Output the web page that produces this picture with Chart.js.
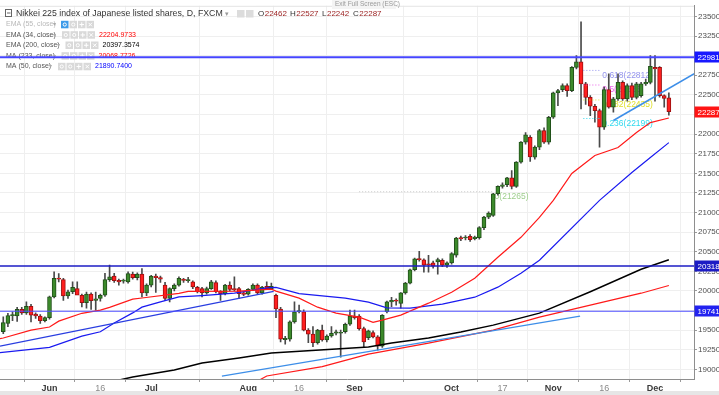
<!DOCTYPE html>
<html>
<head>
<meta charset="utf-8">
<script src="https://cdn.jsdelivr.net/npm/chart.js@4.4.0/dist/chart.umd.min.js"></script>
<style>
  html, body { margin: 0; padding: 0; background: #fff; }
  canvas { display: block; }
</style>
</head>
<body>
<canvas id="nikkei" width="719" height="395"></canvas>
<script>
// daily bars, index 0 = 15 May 2017 (weekdays only); first visible bar is index 3
const firstBar = 3;
const opens = [
  19480, 19585, 19685, 19680, 19765, 19720, 19805, 19705, 19680, 19620,
  19660, 19925, 20160, 20145, 19935, 19990, 20030, 19945, 19850, 19960,
  19880, 19905, 19945, 20145, 20190, 20135, 20125, 20115, 20215, 20170,
  20215, 19975, 20075, 20190, 20170, 20075, 19905, 20030, 20075, 20140,
  20130, 20115, 20045, 20030, 19975, 20030, 20105, 19995, 19965, 20075,
  20030, 20030, 19975, 19960, 20020, 20075, 19975, 20060, 20030, 19945,
  19770, 19380, 19385, 19605, 19735, 19735, 19500, 19450, 19340, 19500,
  19375, 19425, 19460, 19460, 19480, 19575, 19680, 19680, 19520, 19405,
  19470, 19415, 19295, 19735, 19860, 19875, 19840, 19975, 20100, 20270,
  20412, 20398, 20340, 20357, 20370, 20391, 20327, 20357, 20455, 20679,
  20675, 20696, 20667, 20679, 20807, 20942, 20964, 21239, 21333, 21354,
  21443, 21333, 21642, 21897, 21960, 21706, 21833, 22045, 21897, 22215,
  22525, 22567, 22618, 22554, 22851, 22923, 22640, 22469, 22355, 22300,
  22087, 22567, 22342, 22449, 22660, 22449, 22618, 22469, 22491, 22640,
  22660, 22850, 22851, 22491, 22462
];
const highs = [
  19670, 19715, 19735, 19790, 19790, 19860, 19830, 19720, 19700, 19670,
  19935, 20245, 20220, 20160, 20010, 20115, 20115, 19960, 19985, 19975,
  19985, 19960, 20225, 20330, 20225, 20150, 20150, 20245, 20240, 20230,
  20285, 20090, 20200, 20215, 20190, 20110, 20040, 20090, 20180, 20160,
  20175, 20130, 20060, 20045, 20050, 20135, 20130, 20005, 20085, 20115,
  20180, 20045, 19990, 20030, 20090, 20090, 20060, 20115, 20100, 19960,
  19790, 19420, 19620, 19860, 19820, 19760, 19520, 19545, 19510, 19565,
  19440, 19545, 19500, 19500, 19590, 19755, 19755, 19700, 19540, 19500,
  19490, 19430, 19700, 19870, 19920, 19900, 19980, 20110, 20280, 20420,
  20505, 20410, 20455, 20380, 20420, 20410, 20370, 20490, 20685, 20700,
  20705, 20720, 20700, 20820, 20950, 21010, 21245, 21340, 21380, 21450,
  21536, 21650, 21905, 22020, 21980, 21850, 22060, 22080, 22225, 22535,
  22570, 22640, 22640, 22860, 23000, 23433, 22660, 22490, 22380, 22320,
  22600, 22767, 22470, 22767, 22680, 22640, 22650, 22660, 22660, 22700,
  23000, 23000, 22860, 22500, 22527
];
const lows = [
  19455, 19545, 19620, 19610, 19700, 19700, 19605, 19650, 19585, 19605,
  19640, 19910, 20115, 19880, 19905, 19965, 20010, 19795, 19780, 19765,
  19755, 19870, 19930, 20120, 20110, 20075, 20100, 20100, 20150, 20140,
  19925, 19940, 20050, 19980, 20110, 19880, 19860, 20000, 20060, 20110,
  20110, 20030, 19975, 19925, 19960, 20020, 19975, 19880, 19950, 20000,
  20000, 19905, 19940, 19945, 20005, 19960, 19960, 20020, 20015, 19660,
  19350, 19320, 19360, 19590, 19720, 19490, 19340, 19290, 19320, 19360,
  19350, 19410, 19440, 19155, 19460, 19560, 19640, 19500, 19280, 19380,
  19400, 19245, 19280, 19720, 19800, 19820, 19780, 19960, 20090, 20255,
  20380, 20240, 20240, 20290, 20215, 20310, 20300, 20340, 20430, 20640,
  20650, 20630, 20650, 20660, 20780, 20920, 20950, 21220, 21310, 21330,
  21300, 21320, 21630, 21870, 21650, 21680, 21800, 21880, 21870, 22200,
  22364, 22540, 22480, 22540, 22830, 22321, 22380, 22236, 22151, 21833,
  22060, 22330, 22278, 22430, 22430, 22420, 22440, 22450, 22470, 22620,
  22640, 22420, 22470, 22342, 22242
];
const closes = [
  19595, 19685, 19695, 19765, 19720, 19805, 19690, 19680, 19620, 19660,
  19925, 20160, 20150, 19935, 19990, 20045, 19945, 19850, 19960, 19875,
  19900, 19945, 20145, 20180, 20130, 20115, 20130, 20220, 20170, 20215,
  19975, 20075, 20190, 20170, 20150, 19905, 20030, 20075, 20160, 20135,
  20145, 20050, 19990, 19975, 20030, 20115, 19990, 19965, 20075, 20020,
  20015, 19965, 19955, 20020, 20075, 19975, 20050, 20030, 20060, 19770,
  19385, 19395, 19605, 19735, 19750, 19500, 19450, 19340, 19500, 19375,
  19425, 19460, 19480, 19468, 19575, 19680, 19660, 19520, 19350, 19490,
  19415, 19295, 19690, 19860, 19880, 19870, 19975, 20100, 20270, 20410,
  20398, 20328, 20334, 20315, 20399, 20327, 20357, 20476, 20675, 20662,
  20688, 20654, 20688, 20807, 20942, 20993, 21239, 21333, 21354, 21443,
  21333, 21642, 21897, 21990, 21710, 21833, 22045, 21897, 22215, 22525,
  22554, 22618, 22554, 22851, 22923, 22640, 22469, 22355, 22300, 22087,
  22567, 22342, 22449, 22660, 22449, 22618, 22469, 22640, 22640, 22660,
  22864, 22830, 22491, 22456, 22287
];

// indicator lines: [bar index, value]
const ema34 = [[2,19390],[3,19400],[9,19500],[13,19540],[15,19615],[20,19715],[24,19755],[26,19790],
  [31,19895],[33,19910],[41,19970],[43,19995],[54,19997],[61,20022],[62,19997],[67,19908],[71,19793],
  [75,19717],[80,19666],[83,19600],[85,19628],[89,19691],[95,19844],[100,19984],[105,20162],[110,20429],
  [115,20684],[119,20938],[122,21155],[126,21498],[131,21727],[136,21829],[140,22020],[143,22147],[147,22205]];
const ma50 = [[2,19212],[10,19262],[13,19280],[20,19424],[24,19479],[27,19590],[31,19720],[33,19793],
  [37,19861],[41,19924],[46,19940],[53,19971],[60,20040],[62,20045],[67,19965],[77,19908],[82,19857],
  [86,19785],[91,19780],[98,19831],[105,19920],[110,20048],[115,20226],[119,20391],[132,21155],
  [139,21511],[143,21702],[147,21891]];
const ema200 = [[27,18850],[31,18902],[40,18991],[46,19080],[54,19144],[61,19208],[68,19233],[75,19259],
  [82,19284],[87,19335],[95,19399],[102,19475],[109,19564],[119,19717],[130,19990],[141,20277],[147,20397]];
const ma233 = [[58,18850],[60,18915],[72,19035],[82,19195],[95,19335],[109,19500],[119,19666],
  [141,19971],[147,20069]];

// drawn trend lines and levels
const trendA = [[2.29,19297],[61.5,19995]];
const trendB = [[50.3,18915],[127.8,19679]];
const trendC = [[135,22173],[152.5,22771]];
const levels = [22981, 20318, 19741];
const fibLevels = [22812, 22626, 22435, 22199];
const fibLabels = ["0.618(22812)", "0.5(22626)", "0.382(22435)", "0.236(22199)"];
const fibColors = ["#9494ee", "#ea5ee8", "#e0e02c", "#2fd9ee"];

// axes
const yTicks = [19000,19250,19500,19750,20000,20250,20500,20750,21000,21250,21500,21750,22000,22250,22500,22750,23000,23250,23500];
const xTickIdx = [13, 24, 35, 56, 67, 79, 100, 111, 122, 133, 144];
const xTickLabels = ["Jun", "16", "Jul", "Aug", "16", "Sep", "Oct", "17", "Nov", "16", "Dec"];

const xMin = 2.29, xMax = 152.44;
const toPts = (arr) => arr.map(([x, y]) => ({ x: x, y: y }));

const wicks = highs.map((h, k) => ({ x: firstBar + k, y: [lows[k], h] }));
const bodies = opens.map((o, k) => ({ x: firstBar + k, y: [o, closes[k]] }));
const isUp = (k) => closes[k] >= opens[k];

function line(pts, color, width, order, dash) {
  return {
    type: "line",
    data: toPts(pts),
    borderColor: color,
    borderWidth: width,
    borderDash: dash || [],
    pointRadius: 0,
    tension: 0,
    fill: false,
    order: order,
  };
}

const datasets = [
  {
    type: "bar",
    data: wicks,
    backgroundColor: "#4a4a4a",
    barThickness: 1,
    grouped: false,
    order: 20,
  },
  {
    type: "bar",
    data: bodies,
    backgroundColor: (c) => (isUp(c.dataIndex) ? "#3c8a2b" : "#ff1f1f"),
    borderColor: (c) => (isUp(c.dataIndex) ? "#21501a" : "#9e1010"),
    borderWidth: 1,
    borderSkipped: false,
    barThickness: 4,
    minBarLength: 1,
    grouped: false,
    order: 19,
  },
  line(ema200, "#000000", 1.5, 5),
  line(ma233, "#ff1a1a", 1.2, 5),
  line(ema34, "#ff1a1a", 1.2, 4),
  line(ma50, "#1a1af0", 1.2, 4),
  line(trendA, "#2a3ee0", 1.3, 3),
  line(trendB, "#3d8ee8", 1.3, 3),
  line(trendC, "#3d8ee8", 1.6, 3),
  line([[xMin, levels[0]], [xMax, levels[0]]], "#4646ff", 2, 2),
  line([[xMin, levels[1]], [xMax, levels[1]]], "#1c1cc4", 1.6, 2),
  line([[xMin, levels[2]], [xMax, levels[2]]], "#4d4dff", 1, 2),
  line([[80, 21265], [109, 21265]], "#c8c8c8", 1, 6, [1, 2]),
];
fibLevels.forEach((v, k) => {
  datasets.push(line([[128.5, v], [132.3, v]], fibColors[k], 1, 6, [1, 2]));
});

function icons(c, x0, y, first) {
  for (let k = 0; k < 4; k++) {
    c.fillStyle = k === 0 && first ? "#3d9be9" : "#d9d9d9";
    c.fillRect(x0 + k * 8.5, y - 3.5, 7.5, 7.5);
    c.strokeStyle = "#ffffff";
    c.lineWidth = 1;
    c.beginPath();
    if (k === 3) {
      c.moveTo(x0 + k * 8.5 + 2, y - 1.5); c.lineTo(x0 + k * 8.5 + 5.5, y + 2);
      c.moveTo(x0 + k * 8.5 + 5.5, y - 1.5); c.lineTo(x0 + k * 8.5 + 2, y + 2);
    } else if (k === 2) {
      c.moveTo(x0 + k * 8.5 + 3.75, y - 2); c.lineTo(x0 + k * 8.5 + 3.75, y + 2.5);
      c.moveTo(x0 + k * 8.5 + 1.5, y + 0.25); c.lineTo(x0 + k * 8.5 + 6, y + 0.25);
    } else {
      c.arc(x0 + k * 8.5 + 3.75, y + 0.25, 1.6, 0, Math.PI * 2);
    }
    c.stroke();
  }
}

const overlay = {
  id: "overlay",
  beforeDraw(chart) {
    const c = chart.ctx;
    c.save();
    c.fillStyle = "#ffffff";
    c.fillRect(0, 0, chart.width, chart.height);
    c.restore();
  },
  beforeDatasetsDraw(chart) {
    const c = chart.ctx;
    const xs = chart.scales.x, ys = chart.scales.y;
    c.save();
    c.textBaseline = "middle";

    // title row
    c.strokeStyle = "#666";
    c.lineWidth = 1;
    c.strokeRect(5.5, 9.5, 6, 7);
    c.beginPath(); c.moveTo(7, 13); c.lineTo(10.5, 13); c.stroke();
    c.font = "9.5px 'Liberation Sans', Arial, sans-serif";
    const title = "Nikkei 225 index of Japanese listed shares, D, FXCM";
    const tw = c.measureText(title).width;
    const ts = 9.5 * 207 / tw;
    c.font = ts.toFixed(2) + "px 'Liberation Sans', Arial, sans-serif";
    c.fillStyle = "#333333";
    c.fillText(title, 16, 13.5);
    c.fillStyle = "#999";
    c.font = "7px 'DejaVu Sans', sans-serif";
    c.fillText("\u25BE", 225, 14);
    c.fillStyle = "#dcdcdc";
    c.fillRect(237, 10, 7.5, 7.5);
    c.fillRect(246, 10, 7.5, 7.5);
    c.font = "8px 'Liberation Sans', Arial, sans-serif";
    const ohlc = [["O", "22462", 258], ["H", "22527", 290], ["L", "22242", 322], ["C", "22287", 353]];
    ohlc.forEach(([l, v, x]) => {
      c.fillStyle = "#333333";
      c.fillText(l, x, 13.5);
      c.fillStyle = "#9b2222";
      c.fillText(v, x + c.measureText(l).width + 0.5, 13.5);
    });

    // study rows
    const rows = [
      ["EMA (55, close)", 24.3, 53, 61, null, null, "#b9b9b9", true],
      ["EMA (34, close)", 34.7, 53, 62, "22204.9733", "#ff0000", "#555555", false],
      ["EMA (200, close)", 45, 57, 65.5, "20397.3574", "#000000", "#555555", false],
      ["MA (233, close)", 55.7, 53, 61.5, "20068.7726", "#ff0000", "#555555", false],
      ["MA (50, close)", 66.3, 49, 58, "21890.7400", "#0000ff", "#555555", false],
    ];
    rows.forEach(([name, y, ax, ix, val, vc, nc, first]) => {
      c.font = "7px 'Liberation Sans', Arial, sans-serif";
      c.fillStyle = nc;
      c.fillText(name, 6, y);
      c.fillStyle = "#aaaaaa";
      c.font = "6px 'DejaVu Sans', sans-serif";
      c.fillText("\u25BE", ax, y + 0.5);
      icons(c, ix, y, first);
      if (val) {
        c.font = "7px 'Liberation Sans', Arial, sans-serif";
        c.fillStyle = vc;
        c.fillText(val, ix + 37, y);
      }
    });

    // fib and level texts (candles are drawn over them)
    c.textBaseline = "top";
    c.font = "8.5px 'Liberation Sans', Arial, sans-serif";
    fibLevels.forEach((v, k) => {
      c.fillStyle = fibColors[k];
      c.fillText(fibLabels[k], xs.getPixelForValue(132.6), ys.getPixelForValue(v) + 0.5);
    });
    c.fillStyle = "#9fcf8e";
    c.fillText("0(21265)", xs.getPixelForValue(109.3), ys.getPixelForValue(21265) + 0.5);
    c.restore();
  },
  afterDraw(chart) {
    const c = chart.ctx;
    const ys = chart.scales.y;
    const a = chart.chartArea;
    c.save();
    // frame
    c.strokeStyle = "#e4e4e4";
    c.lineWidth = 1;
    c.beginPath();
    c.moveTo(0, a.top + 0.5); c.lineTo(a.right, a.top + 0.5);
    c.stroke();
    // axis value boxes
    const boxes = [
      ["22981", levels[0], "#1818ff"],
      ["22287", closes[closes.length - 1], "#ff1414"],
      ["20318", levels[1], "#1c1cc4"],
      ["19741", levels[2], "#2222f0"],
    ];
    c.font = "8px 'Liberation Sans', Arial, sans-serif";
    c.textBaseline = "middle";
    boxes.forEach(([t, v, col]) => {
      const y = Math.round(ys.getPixelForValue(v));
      c.fillStyle = col;
      c.fillRect(a.right + 0.5, y - 5.5, 30, 11);
      c.fillStyle = "#ffffff";
      c.fillText(t, a.right + 3.5, y + 0.5);
    });
    // exit full screen hint
    c.fillStyle = "#f4f4f4";
    c.fillRect(332, 0, 64, 9);
    c.fillStyle = "#9a9a9a";
    c.font = "6.5px 'Liberation Sans', Arial, sans-serif";
    c.fillText("Exit Full Screen (ESC)", 335, 4.5);
    // bottom strip
    c.fillStyle = "#e6e6e6";
    c.fillRect(0, 391, chart.width, 4);
    c.restore();
  },
};

new Chart(document.getElementById("nikkei"), {
  type: "bar",
  data: { datasets: datasets },
  plugins: [overlay],
  options: {
    responsive: false,
    animation: false,
    devicePixelRatio: 1,
    layout: { padding: { top: 5, left: 0, right: 0, bottom: 0 } },
    plugins: {
      legend: { display: false },
      tooltip: { enabled: false },
    },
    scales: {
      x: {
        type: "linear",
        min: xMin,
        max: xMax,
        offset: false,
        afterBuildTicks: (s) => { s.ticks = xTickIdx.map((v) => ({ value: v })); },
        afterFit: (s) => { s.height = 16; },
        ticks: {
          autoSkip: false,
          maxRotation: 0,
          padding: 1,
          callback: (v) => xTickLabels[xTickIdx.indexOf(v)],
          color: (c) => (/^\d/.test(xTickLabels[c.index] || "") ? "#8a8a8a" : "#3a3a3a"),
          font: (c) => ({
            family: "'Liberation Sans', Arial, sans-serif",
            size: 9,
            weight: /^\d/.test(xTickLabels[c.index] || "") ? "normal" : "bold",
          }),
        },
        grid: { color: "#efefef", tickLength: 3, tickColor: "#9a9a9a" },
        border: { color: "#8e8e8e" },
      },
      y: {
        position: "right",
        min: 18877,
        max: 23636,
        afterBuildTicks: (s) => { s.ticks = yTicks.map((v) => ({ value: v })); },
        afterFit: (s) => { s.width = 25; },
        ticks: {
          padding: 1,
          color: "#4f4f4f",
          font: { family: "'Liberation Sans', Arial, sans-serif", size: 8 },
          callback: (v) => String(v),
        },
        grid: { color: "#efefef", tickLength: 3, tickColor: "#9a9a9a" },
        border: { color: "#8e8e8e" },
      },
    },
  },
});
</script>
</body>
</html>
